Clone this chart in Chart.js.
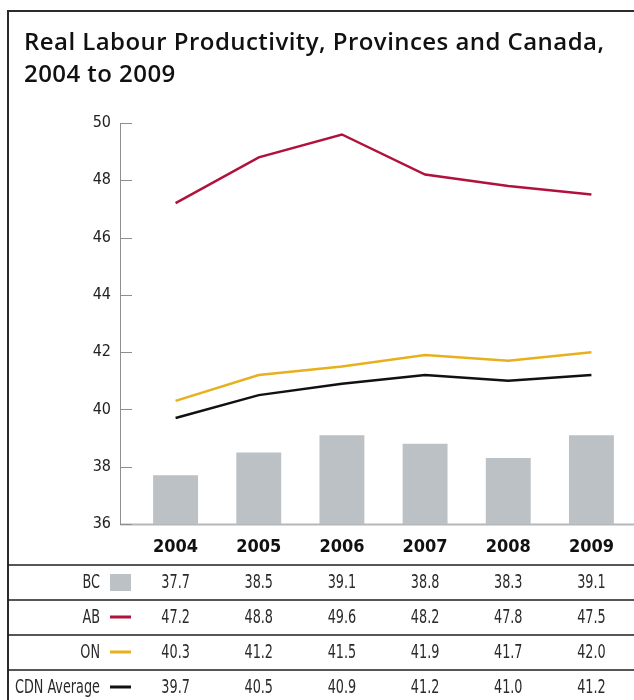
<!DOCTYPE html>
<html lang="en">
<head>
<meta charset="UTF-8" />
<title>Real Labour Productivity, Provinces and Canada, 2004 to 2009</title>
<style>
  html,body{margin:0;padding:0;background:#fff;}
  body{width:634px;height:700px;position:relative;overflow:hidden;font-family:"Open Sans",sans-serif;}
  .frame{position:absolute;left:7px;top:10px;right:-20px;bottom:-20px;border-left:2px solid #2b2b2b;border-top:2px solid #2b2b2b;}
  h1{position:absolute;left:24px;top:25px;margin:0;font-size:24px;font-weight:600;line-height:32px;letter-spacing:0.45px;color:#111;}
  .wrap{position:absolute;left:0;top:0;width:634px;height:700px;}
</style>
<script src="https://cdn.jsdelivr.net/npm/chart.js@4.4.0/dist/chart.umd.min.js"></script>
</head>
<body>
<div class="frame"></div>
<div class="wrap"><canvas id="prodChart" width="634" height="700"></canvas></div>
<h1>Real Labour Productivity, Provinces and Canada,<br>2004 to 2009</h1>

<script>
// ---- data ----
const years = ['2004','2005','2006','2007','2008','2009'];
const bc  = [37.7, 38.5, 39.1, 38.8, 38.3, 39.1];
const ab  = [47.2, 48.8, 49.6, 48.2, 47.8, 47.5];
const on  = [40.3, 41.2, 41.5, 41.9, 41.7, 42.0];
const cdn = [39.7, 40.5, 40.9, 41.2, 41.0, 41.2];
const yTicks = [36, 38, 40, 42, 44, 46, 48, 50];
const rowNames = ['BC', 'AB', 'ON', 'CDN Average'];

// ---- styling ----
const narrow = "'DejaVu Sans Condensed', 'DejaVu Sans', sans-serif";
const colors = { bc:'#bcc1c5', ab:'#b0123b', on:'#e8b01c', cdn:'#111111' };
Chart.defaults.font.family = narrow;
Chart.defaults.color = '#222';

// y axis line sits a little left of the first category
const AXIS_GAP = 14;
// horizontal squeeze for the table text
const SQUEEZE = 0.75;

const axisFrame = {
  id:'axisFrame',
  beforeDatasetsDraw(chart){
    const {ctx, chartArea:a, scales:{y}} = chart;
    const ax = a.left - AXIS_GAP;
    ctx.save();
    // baseline
    ctx.strokeStyle = '#b5b8bb';
    ctx.lineWidth = 2;
    ctx.beginPath();
    ctx.moveTo(ax, a.bottom + 0.5);
    ctx.lineTo(chart.width, a.bottom + 0.5);
    ctx.stroke();
    // value axis + inward ticks
    ctx.strokeStyle = '#8c8f92';
    ctx.lineWidth = 1;
    ctx.beginPath();
    ctx.moveTo(ax + 0.5, y.getPixelForValue(yTicks[yTicks.length-1]));
    ctx.lineTo(ax + 0.5, a.bottom);
    yTicks.forEach(v => {
      const py = Math.round(y.getPixelForValue(v)) + 0.5;
      ctx.moveTo(ax, py);
      ctx.lineTo(ax + 12, py);
    });
    ctx.stroke();
    ctx.restore();
  }
};

function squeezedText(ctx, text, x, y, align){
  ctx.save();
  ctx.translate(x, y);
  ctx.scale(SQUEEZE, 1);
  ctx.textAlign = align;
  ctx.fillText(text, 0, 0);
  ctx.restore();
}

// data table under the x axis
const dataTable = {
  id:'dataTable',
  afterDraw(chart){
    const {ctx, scales:{x}} = chart;
    const rows = [bc, ab, on, cdn];
    const swatch = ['box', colors.ab, colors.on, colors.cdn];
    const rowY = [583, 618, 653, 688];
    const ruleY = [565, 600, 635, 670];
    ctx.save();
    ctx.strokeStyle = '#1e1e1e';
    ctx.lineWidth = 1.5;
    ruleY.forEach(yy => {
      ctx.beginPath();
      ctx.moveTo(8, yy);
      ctx.lineTo(chart.width, yy);
      ctx.stroke();
    });
    ctx.font = '19px ' + narrow;
    ctx.textBaseline = 'middle';
    rows.forEach((vals, r) => {
      const cy = rowY[r];
      ctx.fillStyle = '#2a2a2a';
      squeezedText(ctx, rowNames[r], 100, cy, 'right');
      if (swatch[r] === 'box') {
        ctx.fillStyle = colors.bc;
        ctx.fillRect(110, cy - 9, 21, 17);
      } else {
        ctx.strokeStyle = swatch[r];
        ctx.lineWidth = 3;
        ctx.beginPath();
        ctx.moveTo(110, cy - 1);
        ctx.lineTo(131, cy - 1);
        ctx.stroke();
      }
      ctx.fillStyle = '#2a2a2a';
      vals.forEach((v, i) => squeezedText(ctx, v.toFixed(1), x.getPixelForValue(i), cy, 'center'));
    });
    ctx.restore();
  }
};

new Chart(document.getElementById('prodChart'), {
  data:{
    labels:years,
    datasets:[
      { type:'bar', label:'BC', data:bc, base:yTicks[0], backgroundColor:colors.bc,
        barPercentage:0.54, categoryPercentage:1, order:3 },
      { type:'line', label:'AB', data:ab, borderColor:colors.ab, borderWidth:2.5,
        pointRadius:0, tension:0, order:1 },
      { type:'line', label:'ON', data:on, borderColor:colors.on, borderWidth:2.5,
        pointRadius:0, tension:0, order:1 },
      { type:'line', label:'CDN Average', data:cdn, borderColor:colors.cdn, borderWidth:2.5,
        pointRadius:0, tension:0, order:1 }
    ]
  },
  options:{
    responsive:false,
    animation:false,
    layout:{ padding:{ top:123, right:1, left:0, bottom:0 } },
    plugins:{ legend:{display:false}, tooltip:{enabled:false} },
    scales:{
      x:{
        grid:{display:false, drawTicks:false},
        border:{display:false},
        ticks:{ font:{size:18, weight:'bold'}, color:'#111', padding:13 },
        afterFit(s){ s.height = 176; }
      },
      y:{
        min:yTicks[0], max:yTicks[yTicks.length-1],
        grid:{display:false, drawTicks:false},
        border:{display:false},
        ticks:{ font:{size:16}, color:'#222', padding:23 },
        afterBuildTicks(s){ s.ticks = yTicks.map(v => ({value:v})); },
        afterFit(s){ s.width = 134; }
      }
    }
  },
  plugins:[axisFrame, dataTable]
});
</script>
</body>
</html>
